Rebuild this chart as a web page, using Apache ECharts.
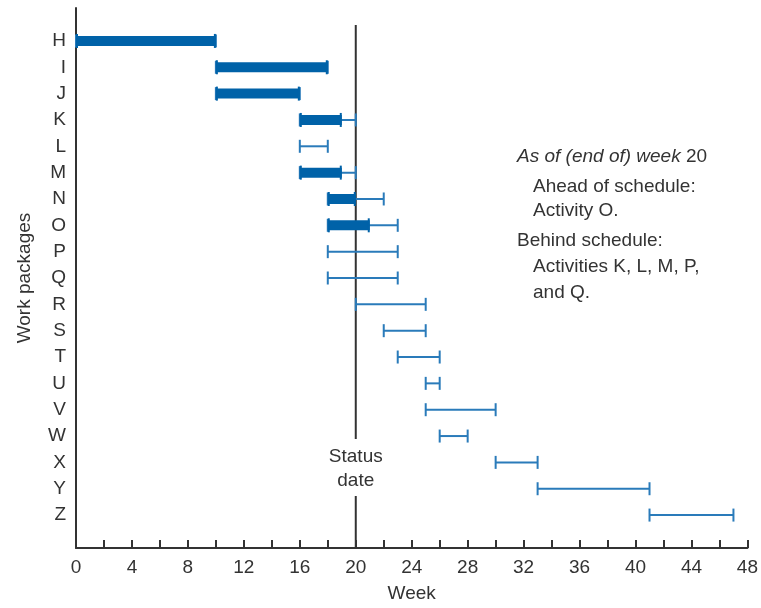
<!DOCTYPE html>
<html>
<head>
<meta charset="utf-8">
<script src="https://cdn.jsdelivr.net/npm/echarts@6/dist/echarts.min.js"></script>
<style>
html,body{margin:0;padding:0;background:#fff;}
#chart{width:761px;height:608px;}
</style>
</head>
<body>
<div id="chart"></div>
<script>
// ---- data ----
const packages = ['H','I','J','K','L','M','N','O','P','Q','R','S','T','U','V','W','X','Y','Z'];
const planStart = [0,10,10,16,16,16,18,18,18,18,20,22,23,25,25,26,30,33,41];
const planEnd   = [10,18,16,20,18,20,22,23,23,23,25,25,26,26,30,28,33,41,47];
const actualPackages = ['H','I','J','K','M','N','O'];
const actualStart = [0,10,10,16,16,18,18];
const actualEnd   = [10,18,16,19,19,20,21];
const statusWeek = 20;
const weekTicks = [0,4,8,12,16,20,24,28,32,36,40,44,48];

const FONT = '"Liberation Sans", Arial, sans-serif';
const TXT = '#333';
const PLAN_C = '#2a7bba';
const ACT_C = '#0062a8';

const planData = packages.map((p,i)=>[i, planStart[i], planEnd[i]]);
const actualData = actualPackages.map((p,k)=>[packages.indexOf(p), actualStart[k], actualEnd[k]]);

function capLines(x, y, h, color){
  return {type:'line', shape:{x1:x, y1:y-h/2, x2:x, y2:y+h/2}, style:{stroke:color, lineWidth:2}};
}
function renderPlan(params, api){
  const y = api.value(0);
  const s = api.coord([api.value(1), y]);
  const e = api.coord([api.value(2), y]);
  return {type:'group', children:[
    {type:'line', shape:{x1:s[0], y1:s[1], x2:e[0], y2:e[1]}, style:{stroke:PLAN_C, lineWidth:2}},
    capLines(s[0], s[1], 13, PLAN_C),
    capLines(e[0], e[1], 13, PLAN_C)
  ]};
}
function renderActual(params, api){
  const y = api.value(0);
  const s = api.coord([api.value(1), y]);
  const e = api.coord([api.value(2), y]);
  const h = 10;
  return {type:'group', children:[
    {type:'rect', shape:{x:s[0], y:s[1]-h/2, width:e[0]-s[0], height:h}, style:{fill:ACT_C}},
    capLines(s[0]+1, s[1], 14, ACT_C),
    capLines(e[0]-1, e[1], 14, ACT_C)
  ]};
}
function renderStatus(params, api){
  const x = api.value(0);
  const top = api.coord([x, -1.25]);
  const bot = api.coord([x, 19.25]);
  const mid = api.coord([x, 16.25]);
  return {type:'group', children:[
    {type:'line', shape:{x1:top[0], y1:top[1]+17, x2:top[0], y2:mid[1]-30}, style:{stroke:'#333', lineWidth:2}},
    {type:'line', shape:{x1:bot[0], y1:mid[1]+27, x2:bot[0], y2:bot[1]}, style:{stroke:'#333', lineWidth:2}},
    {type:'text', x:mid[0], y:mid[1], style:{text:'Status\ndate', font:'19px '+FONT, fill:TXT, align:'center', verticalAlign:'middle', lineHeight:24}}
  ]};
}

const chart = echarts.init(document.getElementById('chart'), null, {renderer:'canvas'});
chart.setOption({
  backgroundColor:'#fff',
  animation:false,
  grid:{left:76, right:13, top:8, bottom:59, containLabel:false},
  xAxis:{
    type:'value', min:0, max:48, interval:4,
    name:'Week', nameLocation:'middle', nameGap:36,
    nameTextStyle:{fontFamily:FONT, fontSize:19, color:TXT},
    axisLine:{show:true, onZero:false, lineStyle:{color:'#333', width:2}},
    axisTick:{show:true, inside:true, length:8, lineStyle:{color:'#333', width:2}},
    minorTick:{show:true, splitNumber:2, length:8, lineStyle:{color:'#333', width:2}},
    splitLine:{show:false},
    axisLabel:{margin:10, fontFamily:FONT, fontSize:19, color:TXT,
      formatter:v=> weekTicks.indexOf(v)>=0 ? String(v) : ''}
  },
  yAxis:{
    type:'value', inverse:true, min:-1.25, max:19.25, interval:0.25,
    name:'Work packages', nameLocation:'middle', nameGap:42, nameRotate:90,
    nameTextStyle:{fontFamily:FONT, fontSize:19, color:TXT},
    axisLine:{show:true, onZero:false, lineStyle:{color:'#333', width:2}},
    axisTick:{show:false},
    splitLine:{show:false},
    axisLabel:{margin:10, fontFamily:FONT, fontSize:19, color:TXT,
      formatter:v=>{ const r=Math.round(v); return (Math.abs(v-r)<1e-6 && r>=0 && r<packages.length) ? packages[r] : ''; }}
  },
  series:[
    {type:'custom', name:'Plan', renderItem:renderPlan, data:planData, encode:{x:[1,2], y:0}, z:2},
    {type:'custom', name:'Actual', renderItem:renderActual, data:actualData, encode:{x:[1,2], y:0}, z:3},
    {type:'custom', name:'Status', renderItem:renderStatus, data:[[statusWeek]], encode:{x:0}, z:1}
  ],
  graphic:[
    {type:'text', left:517, top:147, style:{text:'{i|As of (end of) week }{n|20}', font:'19px '+FONT, fill:TXT,
      rich:{i:{fontStyle:'italic', fontSize:19, fontFamily:FONT, fill:TXT}, n:{fontSize:19, fontFamily:FONT, fill:TXT}}}},
    {type:'text', left:533, top:177, style:{text:'Ahead of schedule:', font:'19px '+FONT, fill:TXT}},
    {type:'text', left:533, top:201, style:{text:'Activity O.', font:'19px '+FONT, fill:TXT}},
    {type:'text', left:517, top:231, style:{text:'Behind schedule:', font:'19px '+FONT, fill:TXT}},
    {type:'text', left:533, top:257, style:{text:'Activities K, L, M, P,', font:'19px '+FONT, fill:TXT}},
    {type:'text', left:533, top:283, style:{text:'and Q.', font:'19px '+FONT, fill:TXT}}
  ]
});
</script>
</body>
</html>
